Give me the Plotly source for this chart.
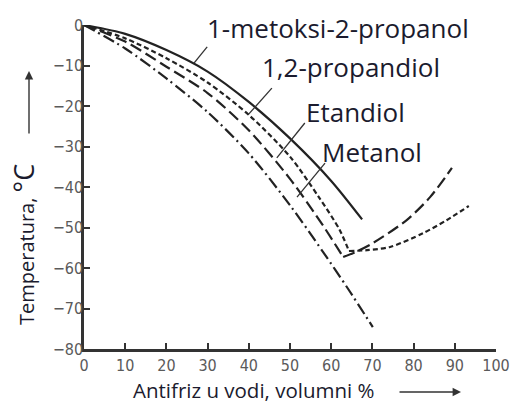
import plotly.graph_objects as go

# ---- data ----
x_tick_vals = [0, 10, 20, 30, 40, 50, 60, 70, 80, 90, 100]
x_tick_text = ["0", "10", "20", "30", "40", "50", "60", "70", "80", "90", "100"]
y_tick_vals = [0, -10, -20, -30, -40, -50, -60, -70, -80]
y_tick_text = ["0", "\u221210", "\u221220", "\u221230", "\u221240", "\u221250", "\u221260", "\u221270", "\u221280"]

metoksi_x = [0, 10, 20, 30, 40, 50, 60, 67.5]
metoksi_y = [0, -2.2, -6.2, -11.5, -19, -28, -38.5, -48]

propandiol_x = [0, 10, 20, 30, 40, 50, 57, 62, 64.3, 68.7, 74.3, 82.3, 88, 93.4]
propandiol_y = [0, -3.3, -8.2, -14.2, -22.2, -32.5, -42.5, -50.5, -55.8, -55.6, -54.8, -51.4, -48.2, -44.7]

etandiol_x = [0, 10, 20, 30, 40, 50, 58, 62.9, 66, 70.2, 78.4, 84, 89.3]
etandiol_y = [0, -4.1, -10.3, -16.8, -26, -38, -49.5, -57.3, -56, -53.8, -48.1, -42.5, -35.3]

metanol_x = [0, 10, 20, 30, 40, 50, 58, 64, 70.1]
metanol_y = [0, -5.8, -13.2, -21.5, -31.7, -44.5, -56, -65, -74.6]

label_names = ["1-metoksi-2-propanol", "1,2-propandiol", "Etandiol", "Metanol"]
label_x = [29.3, 42.8, 53.3, 57.4]
label_y = [-0.7, -10.4, -21.5, -31.4]
leader_x0 = [29.9, 45.6, 53.6, 58.5]
leader_y0 = [-5.4, -15.6, -24.2, -34.1]
leader_x1 = [26.7, 39.8, 46.8, 51.7]
leader_y1 = [-9.4, -22.2, -32.8, -42.5]

x_title = "Antifriz u vodi, volumni %"
y_title = "Temperatura, <span style='font-size:27px'>°C</span>"

# ---- figure ----
LINE = "#222222"
fig = go.Figure()
styles = [
    (metoksi_x, metoksi_y, "solid"),
    (propandiol_x, propandiol_y, "5px,3px"),
    (etandiol_x, etandiol_y, "12px,5px"),
    (metanol_x, metanol_y, "12px,4px,2px,4px"),
]
for xs, ys, dash in styles:
    k = ys.index(min(ys)) + 1
    parts = [(xs[:k], ys[:k])]
    if k < len(xs):
        parts.append((xs[k - 1:], ys[k - 1:]))
    for px_, py_ in parts:
        fig.add_trace(go.Scatter(x=px_, y=py_, mode="lines",
                                 line=dict(color=LINE, width=2.2, dash=dash,
                                           shape="spline", smoothing=0.8),
                                 showlegend=False, hoverinfo="skip", cliponaxis=False))

for i, name in enumerate(label_names):
    fig.add_shape(type="line", xref="x", yref="y",
                  x0=leader_x0[i], y0=leader_y0[i], x1=leader_x1[i], y1=leader_y1[i],
                  line=dict(color="#333333", width=1.3))
    fig.add_annotation(x=label_x[i], y=label_y[i], xref="x", yref="y",
                       text=name, showarrow=False, xanchor="left", yanchor="middle",
                       font=dict(family="Open Sans", size=26, color="#1b1b2e"))

# plot area in screen pixels: x 84..496, y 25..349
def px2paper(px, py):
    return (px - 84) / 412.0, (349 - py) / 324.0

# x axis title and arrow
tx, ty = px2paper(132, 390)
fig.add_annotation(x=tx, y=ty, xref="paper", yref="paper", text=x_title,
                   showarrow=False, xanchor="left", yanchor="middle", borderpad=0,
                   font=dict(family="Open Sans", size=20.5, color="#1b1b2e"))
ax_, ay_ = px2paper(461, 392)
fig.add_annotation(x=ax_, y=ay_, xref="paper", yref="paper", text="",
                   showarrow=True, ax=-63, ay=0, axref="pixel", ayref="pixel",
                   arrowhead=2, arrowsize=1.2, arrowwidth=1.4, arrowcolor="#333333")

# y axis title and arrow
tx, ty = px2paper(23, 245)
fig.add_annotation(x=tx, y=ty, xref="paper", yref="paper", text=y_title,
                   showarrow=False, textangle=-90, xanchor="center", yanchor="middle",
                   font=dict(family="Open Sans", size=20, color="#1b1b2e"))
ax_, ay_ = px2paper(29, 71)
fig.add_annotation(x=ax_, y=ay_, xref="paper", yref="paper", text="",
                   showarrow=True, ax=0, ay=64, axref="pixel", ayref="pixel",
                   arrowhead=2, arrowsize=1.2, arrowwidth=1.4, arrowcolor="#333333")

axis_common = dict(showgrid=False, zeroline=False, showline=True, linewidth=2.5,
                   linecolor="#333333", ticks="inside", ticklen=6, tickwidth=1.6,
                   tickcolor="#333333", automargin=False,
                   tickfont=dict(family="DejaVu Sans Condensed", size=16, color="#5a5a5a"))
fig.update_xaxes(range=[0, 100], tickvals=x_tick_vals, ticktext=x_tick_text, **axis_common)
fig.update_yaxes(range=[-80, 0], tickvals=y_tick_vals, ticktext=y_tick_text,
                 ticklabelstandoff=-5, **axis_common)

fig.update_layout(width=512, height=401, autosize=False,
                  margin=dict(l=84, r=16, t=25, b=52, autoexpand=False),
                  paper_bgcolor="white", plot_bgcolor="white")

fig.write_html("out.html",
               config={"displayModeBar": False, "responsive": False},
               post_script="document.body.style.margin='0';"
                           "document.documentElement.style.overflow='hidden';")
